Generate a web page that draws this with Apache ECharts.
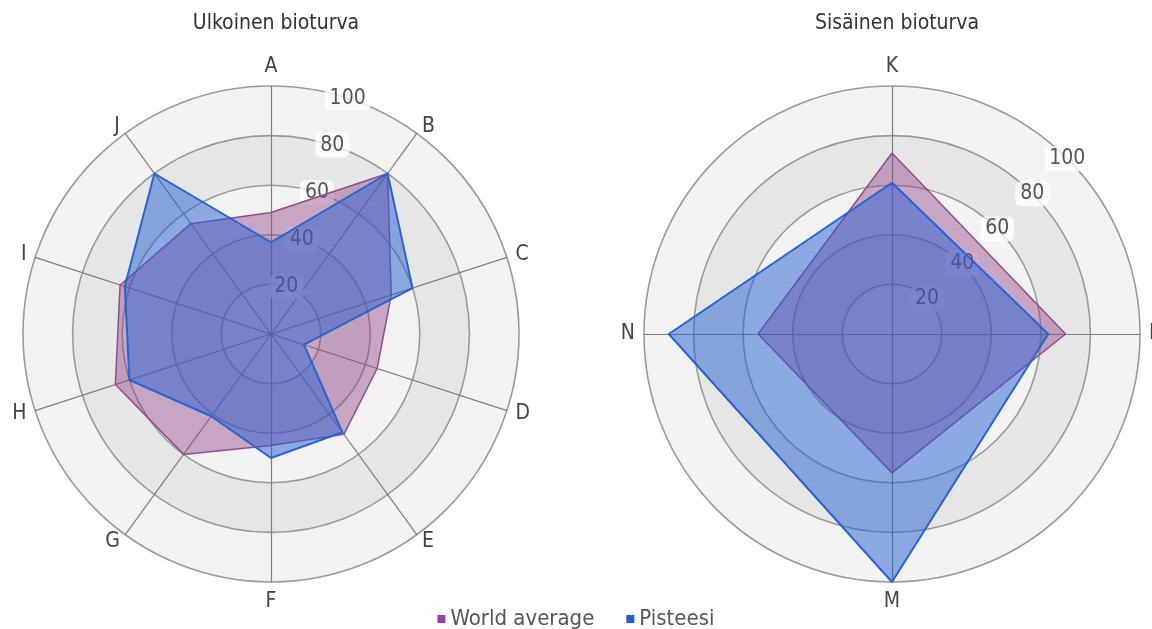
<!DOCTYPE html>
<html>
<head>
<meta charset="utf-8">
<style>
  html, body { margin: 0; padding: 0; background: #ffffff; }
  #chart { width: 1152px; height: 629px; }
</style>
<script src="https://cdn.jsdelivr.net/npm/echarts@6/dist/echarts.min.js"></script>
</head>
<body>
<div id="chart"></div>
<script>
// ---- data (indicators listed clockwise from the top) ----
const titles = ['Ulkoinen bioturva', 'Sisäinen bioturva'];
const seriesNames = ['World average', 'Pisteesi'];
const leftIndicators = ['A', 'B', 'C', 'D', 'E', 'F', 'G', 'H', 'I', 'J'];
const rightIndicators = ['K', 'L', 'M', 'N'];
const worldLeft = [49, 80, 51, 45, 50, 45, 60, 66, 64, 55];
const yoursLeft = [37, 80, 60, 14, 49, 50, 41, 60, 62, 80];
const worldRight = [73, 70, 56, 54];
const yoursRight = [61, 63, 100, 90];
const scaleMin = 0;
const scaleMax = 100;
const scaleStep = 20;

// ECharts places radar indicators counter-clockwise; reorder so they run clockwise.
function clockwise(arr) { return [arr[0]].concat(arr.slice(1).reverse()); }

// ---- styling ----
const FONT = "'Liberation Sans Narrow', 'DejaVu Sans Condensed', 'Roboto', sans-serif";
const centers = [[271, 334], [892, 334]];
const R = 248;
const labelAngles = [72, 45];
const purple = { line: '#94548f', area: 'rgba(140,60,130,0.42)', icon: '#8e44a0' };
const blue = { line: '#2a66d2', area: 'rgba(40,95,210,0.5)', icon: '#1f5fcf' };

function radarCfg(names, i) {
  return {
    center: centers[i],
    radius: R,
    startAngle: 90,
    shape: 'circle',
    splitNumber: (scaleMax - scaleMin) / scaleStep,
    z: 0,
    indicator: clockwise(names).map(n => ({ name: n, min: scaleMin, max: scaleMax })),
    nameGap: 9,
    axisName: { color: '#444', fontSize: 21, fontFamily: FONT },
    axisLine: { lineStyle: { color: '#808080', width: 1.2 } },
    splitLine: { lineStyle: { color: '#9a9a9a', width: 1.6 } },
    splitArea: { show: true, areaStyle: { color: ['#f2f2f2', '#e6e6e6'] } }
  };
}

function radiusAxisCfg(i) {
  return {
    polarIndex: i,
    type: 'value',
    min: scaleMin,
    max: scaleMax,
    interval: scaleStep,
    z: 1,
    axisLine: { show: false },
    axisTick: { show: false },
    splitLine: { show: false },
    axisLabel: {
      show: true,
      showMinLabel: false,
      margin: 0,
      align: 'center',
      verticalAlign: 'middle',
      color: '#555',
      fontSize: 21,
      fontFamily: FONT,
      backgroundColor: 'rgba(255,255,255,0.75)',
      borderRadius: 6,
      padding: [2, 5]
    }
  };
}

function seriesCfg(radarIndex, world, yours) {
  return [
    {
      type: 'radar', name: seriesNames[0], radarIndex: radarIndex, z: 2,
      symbol: 'none',
      itemStyle: { color: purple.icon },
      lineStyle: { color: purple.line, width: 1.5 },
      areaStyle: { color: purple.area, opacity: 1 },
      data: [{ value: clockwise(world), name: seriesNames[0] }]
    },
    {
      type: 'radar', name: seriesNames[1], radarIndex: radarIndex, z: 3,
      symbol: 'none',
      itemStyle: { color: blue.icon },
      lineStyle: { color: blue.line, width: 2 },
      areaStyle: { color: blue.area, opacity: 1 },
      data: [{ value: clockwise(yours), name: seriesNames[1] }]
    }
  ];
}

const chart = echarts.init(document.getElementById('chart'), null, { renderer: 'canvas' });
chart.setOption({
  animation: false,
  backgroundColor: '#ffffff',
  textStyle: { fontFamily: FONT },
  title: titles.map((t, i) => ({
    text: t,
    left: centers[i][0],
    top: 8,
    textAlign: 'center',
    textStyle: { color: '#333', fontSize: 21, fontWeight: 'normal', fontFamily: FONT }
  })),
  legend: {
    top: 603,
    left: 'center',
    icon: 'rect',
    itemWidth: 8,
    itemHeight: 8,
    itemGap: 32,
    textStyle: { color: '#555', fontSize: 22, fontFamily: FONT },
    data: [
      { name: seriesNames[0], itemStyle: { color: purple.icon } },
      { name: seriesNames[1], itemStyle: { color: blue.icon } }
    ]
  },
  radar: [radarCfg(leftIndicators, 0), radarCfg(rightIndicators, 1)],
  polar: centers.map(c => ({ center: c, radius: R })),
  angleAxis: labelAngles.map((a, i) => ({
    polarIndex: i, type: 'value', min: 0, max: 360, startAngle: a, show: false
  })),
  radiusAxis: [radiusAxisCfg(0), radiusAxisCfg(1)],
  series: [].concat(
    seriesCfg(0, worldLeft, yoursLeft),
    seriesCfg(1, worldRight, yoursRight)
  )
});
</script>
</body>
</html>
